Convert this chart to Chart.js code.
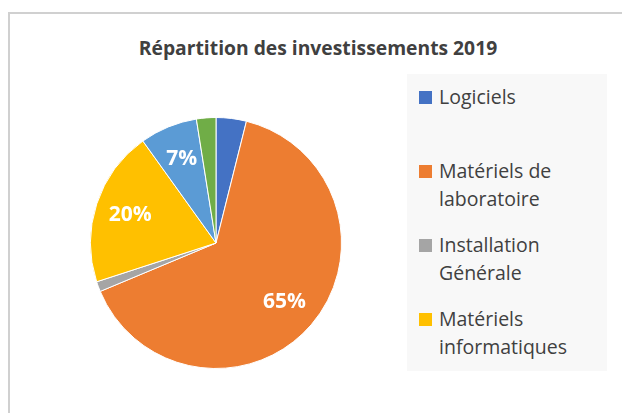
<!DOCTYPE html>
<html>
<head>
<meta charset="utf-8">
<script src="https://cdn.jsdelivr.net/npm/chart.js@4.4.0/dist/chart.umd.min.js"></script>
<style>
  html, body { margin: 0; padding: 0; background: #ffffff; }
  #wrap { position: relative; width: 622px; height: 413px; overflow: hidden; font-family: "Open Sans", sans-serif; }
  #frame { position: absolute; left: 8px; top: 12px; width: 700px; height: 500px; border-top: 2px solid #d0d0d0; border-left: 2px solid #d0d0d0; box-sizing: border-box; }
  #title { position: absolute; left: 0; width: 636px; top: 34px; text-align: center; font-weight: bold; font-size: 19.3px; color: #404040; line-height: 28px; }
  #chartBox { position: absolute; left: 0; top: 0; width: 622px; height: 413px; }
  #legend { position: absolute; left: 407px; top: 74px; width: 200px; height: 297px; background: #f8f8f8; }
  .item { position: absolute; left: 0; width: 200px; height: 74px; }
  .mark { position: absolute; left: 12px; top: 8px; width: 13px; height: 13px; }
  .txt { position: absolute; left: 32px; top: 0; font-size: 19.5px; line-height: 28px; color: #404040; white-space: nowrap; }
</style>
</head>
<body>
<div id="wrap">
  <div id="frame"></div>
  <div id="title">Répartition des investissements 2019</div>
  <div id="legend"></div>
  <div id="chartBox"><canvas id="c" width="622" height="413"></canvas></div>
</div>
<script>
// Categories (last two slices are not listed in the visible legend)
const categories = ["Logiciels", "Matériels de laboratoire", "Installation Générale", "Matériels informatiques", "Autres (a)", "Autres (b)"];
// Legend lines as shown in the picture
const legendLines = [["Logiciels"], ["Matériels de", "laboratoire"], ["Installation", "Générale"], ["Matériels", "informatiques"]];
// Share of investments (%)
const values = [3.9, 64.8, 1.3, 20.1, 7.4, 2.5];
const colors = ["#4472C4", "#ED7D31", "#A5A5A5", "#FFC000", "#5B9BD5", "#70AD47"];
const minLabelPct = 5;

// HTML legend
const legendEl = document.getElementById('legend');
legendLines.forEach((lines, i) => {
  const item = document.createElement('div');
  item.className = 'item';
  item.style.top = (9 + i * 74) + 'px';
  const m = document.createElement('div');
  m.className = 'mark';
  m.style.background = colors[i];
  const t = document.createElement('div');
  t.className = 'txt';
  t.innerHTML = lines.join('<br>');
  item.appendChild(m); item.appendChild(t);
  legendEl.appendChild(item);
});

const pctLabels = {
  id: 'pctLabels',
  afterDatasetsDraw(chart) {
    const ctx = chart.ctx;
    const meta = chart.getDatasetMeta(0);
    const data = chart.data.datasets[0].data;
    const total = data.reduce((a, b) => a + b, 0);
    ctx.save();
    ctx.fillStyle = '#ffffff';
    ctx.font = 'bold 21px "Open Sans", sans-serif';
    ctx.textAlign = 'center';
    ctx.textBaseline = 'middle';
    meta.data.forEach((arc, i) => {
      const pct = data[i] / total * 100;
      if (pct < minLabelPct) return;
      const p = arc.getProps(['x', 'y', 'startAngle', 'endAngle', 'outerRadius'], true);
      const mid = (p.startAngle + p.endAngle) / 2;
      const r = p.outerRadius * 0.72;
      ctx.fillText(Math.round(pct) + '%', p.x + Math.cos(mid) * r, p.y + Math.sin(mid) * r);
    });
    ctx.restore();
  }
};

new Chart(document.getElementById('c'), {
  type: 'pie',
  data: {
    labels: categories,
    datasets: [{
      data: values,
      backgroundColor: colors,
      borderColor: '#ffffff',
      borderWidth: 1
    }]
  },
  options: {
    responsive: false,
    animation: false,
    events: [],
    layout: { padding: { left: 90, top: 117, right: 280, bottom: 44 } },
    plugins: {
      legend: { display: false },
      title: { display: false },
      tooltip: { enabled: false }
    }
  },
  plugins: [pctLabels]
});
</script>
</body>
</html>
